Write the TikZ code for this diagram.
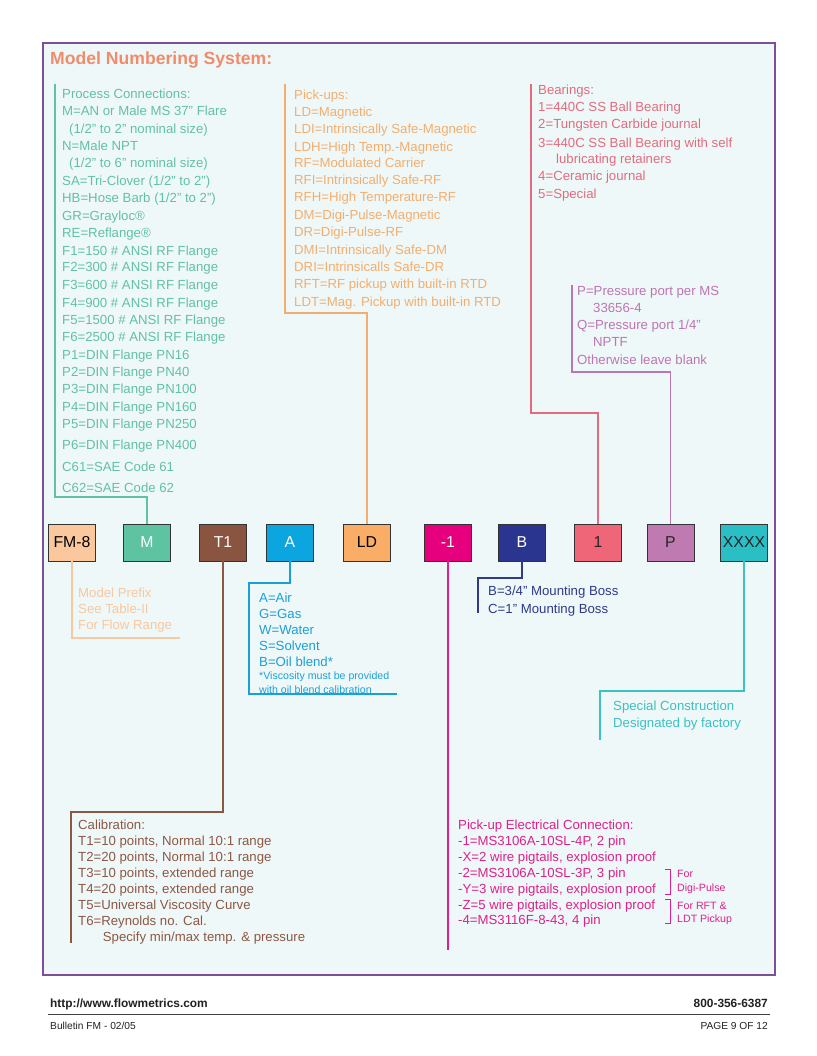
\documentclass[tikz,border=0pt]{standalone}
\usepackage{fontspec}
\setmainfont{Liberation Sans}
\definecolor{frameC}{HTML}{7D4F9B}
\definecolor{bgC}{HTML}{EFF8F8}
\definecolor{titleC}{HTML}{F08C6C}
\definecolor{grnT}{HTML}{62C1A2}
\definecolor{grnB}{HTML}{5DC3A0}
\definecolor{orgT}{HTML}{F3AE6E}
\definecolor{orgB}{HTML}{F9AD66}
\definecolor{brnT}{HTML}{8B5844}
\definecolor{brnB}{HTML}{8A5540}
\definecolor{cyaT}{HTML}{1AA0D9}
\definecolor{cyaB}{HTML}{0BA6DF}
\definecolor{pchT}{HTML}{F9C7A0}
\definecolor{pchB}{HTML}{FBC79D}
\definecolor{magT}{HTML}{E0208A}
\definecolor{magB}{HTML}{E6007E}
\definecolor{navT}{HTML}{2E3A8A}
\definecolor{navB}{HTML}{2A3590}
\definecolor{brgT}{HTML}{E26C7E}
\definecolor{brgB}{HTML}{EF6679}
\definecolor{prtT}{HTML}{BC76B2}
\definecolor{prtB}{HTML}{BF7AB1}
\definecolor{tealT}{HTML}{3DC0C2}
\definecolor{tealB}{HTML}{2ABFC4}
\definecolor{footC}{HTML}{222222}
\tikzset{
  txt/.style={anchor=base west, inner sep=0pt, font=\fontsize{13.2}{15}\selectfont},
  small/.style={anchor=base west, inner sep=0pt, font=\fontsize{10.6}{12}\selectfont},
  codebox/.style={draw=black!80, line width=0.8pt, minimum width=47pt, minimum height=37pt, inner sep=0pt, font=\fontsize{15.8}{18}\selectfont},
  conn/.style={line width=1.2pt},
}
\begin{document}
\begin{tikzpicture}[x=1pt,y=-1pt]
\useasboundingbox (0,0) rectangle (816,1056);
\fill[white] (0,0) rectangle (816,1056);
\draw[frameC, fill=bgC, line width=1.5pt] (43,43) rectangle (775,975);
\node[anchor=base west, inner sep=0pt, font=\fontsize{17.6}{20}\selectfont\bfseries, text=titleC] (title) at (50,64.3) {Model Numbering System:};

% code boxes
\node[codebox, fill=pchB, text=black] (bFM) at (72,542.5) {FM-8};
\node[codebox, fill=grnB, text=white] (bM) at (147,542.5) {M};
\node[codebox, fill=brnB, text=white] (bT) at (223,542.5) {T1};
\node[codebox, fill=cyaB, text=white] (bA) at (290,542.5) {A};
\node[codebox, fill=orgB, text=black] (bLD) at (367,542.5) {LD};
\node[codebox, fill=magB, text=white] (bN) at (448,542.5) {-1};
\node[codebox, fill=navB, text=white] (bB) at (522,542.5) {B};
\node[codebox, fill=brgB, text=black!85] (b1) at (598,542.5) {1};
\node[codebox, fill=prtB, text=black!85] (bP) at (670.5,542.5) {P};
\node[codebox, fill=tealB, text=black!85] (bX) at (744,542.5) {XXXX};

% connectors
\coordinate (mK) at (55,497); \coordinate (mTop) at (55,84);
\draw[conn, grnT] (bM.north) |- (mK) -- (mTop);
\coordinate (ldK) at (285,313); \coordinate (ldTop) at (285,84);
\draw[conn, orgT] (bLD.north) |- (ldK) -- (ldTop);
\coordinate (brK) at (531,413); \coordinate (brTop) at (531,84);
\draw[conn, brgT] (b1.north) |- (brK) -- (brTop);
\coordinate (pK) at (572,372); \coordinate (pTop) at (572,285);
\draw[conn, prtT] (bP.north) |- (pK) -- (pTop);
\coordinate (fmK) at (180,638);
\draw[conn, pchT] (bFM.south) |- (fmK);
\coordinate (tK) at (71,812); \coordinate (tBot) at (71,943);
\draw[conn, brnT] (bT.south) |- (tK) -- (tBot);
\coordinate (aK) at (249,583); \coordinate (aB1) at (249,694); \coordinate (aB2) at (397,694);
\draw[conn, cyaT] (bA.south) |- (aK) -- (aB1) -- (aB2);
\coordinate (nBot) at (448,950);
\draw[conn, magT] (bN.south) -- (nBot);
\coordinate (bK) at (478,578); \coordinate (bBot) at (478,613);
\draw[conn, navT] (bB.south) |- (bK) -- (bBot);
\coordinate (xK) at (600,691); \coordinate (xBot) at (600,740);
\draw[conn, tealT] (bX.south) |- (xK) -- (xBot);

% process connections
\begin{scope}[every node/.style={txt, text=grnT}]
\node (pc0) at (62,99) {Process Connections:};
\node (pc1) at (62,116) {M=AN or Male MS 37” Flare};
\node (pc2) at (69,133.4) {(1/2” to 2” nominal size)};
\node (pc3) at (62,151) {N=Male NPT};
\node (pc4) at (69,168) {(1/2” to 6” nominal size)};
\node (pc5) at (62,185.4) {SA=Tri-Clover (1/2” to 2”)};
\node (pc6) at (62,203) {HB=Hose Barb (1/2” to 2”)};
\node (pc7) at (62,220.4) {GR=Grayloc®};
\node (pc8) at (62,238) {RE=Reflange®};
\node (pc9) at (62,255.4) {F1=150 \# ANSI RF Flange};
\node (pc10) at (62,272) {F2=300 \# ANSI RF Flange};
\node (pc11) at (62,289) {F3=600 \# ANSI RF Flange};
\node (pc12) at (62,307) {F4=900 \# ANSI RF Flange};
\node (pc13) at (62,324) {F5=1500 \# ANSI RF Flange};
\node (pc14) at (62,341.4) {F6=2500 \# ANSI RF Flange};
\node (pc15) at (62,359.4) {P1=DIN Flange PN16};
\node (pc16) at (62,376) {P2=DIN Flange PN40};
\node (pc17) at (62,393.4) {P3=DIN Flange PN100};
\node (pc18) at (62,411) {P4=DIN Flange PN160};
\node (pc19) at (62,428) {P5=DIN Flange PN250};
\node (pc20) at (62,449) {P6=DIN Flange PN400};
\node (pc21) at (62,471.4) {C61=SAE Code 61};
\node (pc22) at (62,492.4) {C62=SAE Code 62};
\end{scope}

% pick-ups
\begin{scope}[every node/.style={txt, text=orgT}]
\node (pu0) at (294,99.5) {Pick-ups:};
\node (pu1) at (294,116.4) {LD=Magnetic};
\node (pu2) at (294,133.7) {LDI=Intrinsically Safe-Magnetic};
\node (pu3) at (294,151.2) {LDH=High Temp.-Magnetic};
\node (pu4) at (294,168) {RF=Modulated Carrier};
\node (pu5) at (294,184.7) {RFI=Intrinsically Safe-RF};
\node (pu6) at (294,202) {RFH=High Temperature-RF};
\node (pu7) at (294,219.7) {DM=Digi-Pulse-Magnetic};
\node (pu8) at (294,237) {DR=Digi-Pulse-RF};
\node (pu9) at (294,254.7) {DMI=Intrinsically Safe-DM};
\node (pu10) at (294,272) {DRI=Intrinsicalls Safe-DR};
\node (pu11) at (294,288.7) {RFT=RF pickup with built-in RTD};
\node (pu12) at (294,306.4) {LDT=Mag. Pickup with built-in RTD};
\end{scope}

% bearings
\begin{scope}[every node/.style={txt, text=brgT}]
\node (br0) at (538,94.7) {Bearings:};
\node (br1) at (538,112) {1=440C SS Ball Bearing};
\node (br2) at (538,129) {2=Tungsten Carbide journal};
\node (br3) at (538,147.4) {3=440C SS Ball Bearing with self};
\node (br4) at (556,164) {lubricating retainers};
\node (br5) at (538,180.7) {4=Ceramic journal};
\node (br6) at (538,198.7) {5=Special};
\end{scope}

% pressure port
\begin{scope}[every node/.style={txt, text=prtT}]
\node (pp0) at (577,295.4) {P=Pressure port per MS};
\node (pp1) at (593,312) {33656-4};
\node (pp2) at (577,329) {Q=Pressure port 1/4”};
\node (pp3) at (593,346.4) {NPTF};
\node (pp4) at (577,364) {Otherwise leave blank};
\end{scope}

% model prefix
\begin{scope}[every node/.style={txt, text=pchT}]
\node (mp0) at (78,597) {Model Prefix};
\node (mp1) at (78,613) {See Table-II};
\node (mp2) at (78,629) {For Flow Range};
\end{scope}

% fluid
\begin{scope}[every node/.style={txt, text=cyaT}]
\node (fl0) at (259,602.4) {A=Air};
\node (fl1) at (259,618.4) {G=Gas};
\node (fl2) at (259,634) {W=Water};
\node (fl3) at (259,650) {S=Solvent};
\node (fl4) at (259,666.4) {B=Oil blend*};
\node[small] (fl5) at (259,679.5) {*Viscosity must be provided};
\node[small] (fl6) at (259,693.1) {with oil blend calibration};
\end{scope}

% mounting boss
\begin{scope}[every node/.style={txt, text=navT}]
\node (mb0) at (488,595.4) {B=3/4” Mounting Boss};
\node (mb1) at (488,613) {C=1” Mounting Boss};
\end{scope}

% special construction
\begin{scope}[every node/.style={txt, text=tealT}]
\node (sc0) at (613,710) {Special Construction};
\node (sc1) at (613,727.4) {Designated by factory};
\end{scope}

% calibration
\begin{scope}[every node/.style={txt, text=brnT}]
\node (ca0) at (78,829) {Calibration:};
\node (ca1) at (78,845.4) {T1=10 points, Normal 10:1 range};
\node (ca2) at (78,861.4) {T2=20 points, Normal 10:1 range};
\node (ca3) at (78,877.4) {T3=10 points, extended range};
\node (ca4) at (78,893.4) {T4=20 points, extended range};
\node (ca5) at (78,909.7) {T5=Universal Viscosity Curve};
\node (ca6) at (78,925.4) {T6=Reynolds no. Cal.};
\node (ca7) at (102.7,941.4) {Specify min/max temp. \& pressure};
\end{scope}

% electrical connection
\begin{scope}[every node/.style={txt, text=magT}]
\node (ec0) at (458,829) {Pick-up Electrical Connection:};
\node (ec1) at (458,845.7) {-1=MS3106A-10SL-4P, 2 pin};
\node (ec2) at (458,861.4) {-X=2 wire pigtails, explosion proof};
\node (ec3) at (458,877.4) {-2=MS3106A-10SL-3P, 3 pin};
\node (ec4) at (458,893) {-Y=3 wire pigtails, explosion proof};
\node (ec5) at (458,909) {-Z=5 wire pigtails, explosion proof};
\node (ec6) at (458,924.7) {-4=MS3116F-8-43, 4 pin};
\node[small] (ec7) at (677,877.8) {For};
\node[small] (ec8) at (677,891.1) {Digi-Pulse};
\node[small] (ec9) at (677,909.5) {For RFT \&};
\node[small] (ec10) at (677,922.1) {LDT Pickup};
\end{scope}
\draw[magT, line width=1pt] (665,869) -- (670,869) -- (670,894) -- (665,894);
\draw[magT, line width=1pt] (665,899) -- (670,899) -- (670,923) -- (665,923);

% footer
\node[anchor=base west, inner sep=0pt, font=\fontsize{11.9}{14}\selectfont\bfseries, text=footC] (url) at (50,1007.3) {http://www.flowmetrics.com};
\node[anchor=base east, inner sep=0pt, font=\fontsize{11.9}{14}\selectfont\bfseries, text=footC] (phone) at (768,1007.3) {800-356-6387};
\coordinate (fl) at (48,1014); \coordinate (fr) at (770,1014);
\draw[black!75, line width=1pt] (fl) -- (fr);
\node[anchor=base west, inner sep=0pt, font=\fontsize{10.2}{12}\selectfont, text=footC] (bul) at (50,1029.6) {Bulletin FM - 02/05};
\node[anchor=base east, inner sep=0pt, font=\fontsize{10.2}{12}\selectfont, text=footC] (pg) at (768,1029.6) {PAGE 9 OF 12};
\end{tikzpicture}
\end{document}
